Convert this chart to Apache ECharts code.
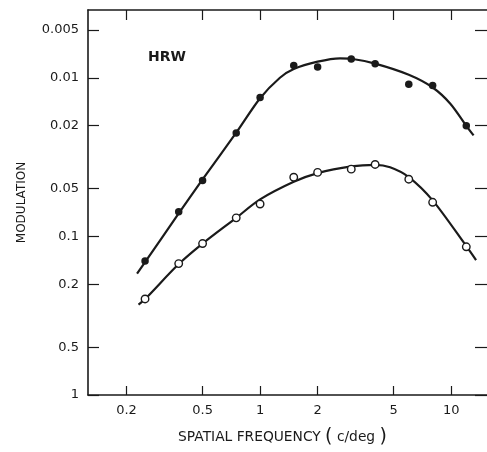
<!DOCTYPE html>
<html>
<head>
<meta charset="utf-8">
<script src="https://cdn.jsdelivr.net/npm/echarts@6/dist/echarts.min.js"></script>
<style>
html,body{margin:0;padding:0;background:#fff;}
#chart{width:487px;height:452px;}
</style>
</head>
<body>
<div id="chart"></div>
<script>
// Measured points (spatial frequency, c/deg)
const freqs = [0.25, 0.375, 0.5, 0.75, 1, 1.5, 2, 3, 4, 6, 8, 12];
// Filled dots (upper curve)
const filledMod = [0.143, 0.070, 0.0445, 0.0223, 0.0133, 0.00836, 0.00856, 0.00761, 0.00817, 0.0110, 0.0112, 0.0201];
// Open circles (lower curve)
const openMod = [0.248, 0.1485, 0.111, 0.0764, 0.0625, 0.0424, 0.0395, 0.0377, 0.0352, 0.0436, 0.061, 0.1163];

// Fitted curves
const upperCurveFreq = [0.227, 0.25, 0.375, 0.5, 0.75, 1, 1.27, 1.5, 2, 2.62, 3, 4, 6, 8, 9.9, 12, 13.1];
const upperCurveMod  = [0.172, 0.1454, 0.0717, 0.0437, 0.0222, 0.01346, 0.0100, 0.00881, 0.00792, 0.00754, 0.00759, 0.00815, 0.00958, 0.01152, 0.01458, 0.0201, 0.0231];
const lowerCurveFreq = [0.231, 0.25, 0.375, 0.5, 0.75, 1, 1.5, 2, 3, 4, 4.79, 6, 8, 12, 13.5];
const lowerCurveMod  = [0.269, 0.2487, 0.1495, 0.111, 0.0764, 0.0585, 0.0453, 0.0399, 0.0362, 0.0354, 0.0367, 0.0423, 0.0593, 0.1152, 0.141];

// Tick labels
const xTicks = [0.2, 0.5, 1, 2, 5, 10];
const xTickLabels = ['0.2', '0.5', '1', '2', '5', '10'];
const yTicks = [0.005, 0.01, 0.02, 0.05, 0.1, 0.2, 0.5, 1];
const yTickLabels = ['0.005', '0.01', '0.02', '0.05', '0.1', '0.2', '0.5', '1'];

function nearestLabel(v, ticks, labels) {
  let best = 0, bd = Infinity;
  for (let i = 0; i < ticks.length; i++) {
    const d = Math.abs(Math.log10(v) - Math.log10(ticks[i]));
    if (d < bd) { bd = d; best = i; }
  }
  return labels[best];
}
function zip(a, b) { return a.map((v, i) => [v, b[i]]); }

const FONT = 'DejaVu Sans';
const INK = '#1a1a1a';
const xMin = 0.1257, xMax = 15.4, yMin = 0.00374, yMax = 1;

const chart = echarts.init(document.getElementById('chart'));
chart.setOption({
  animation: false,
  backgroundColor: '#fff',
  grid: { left: 88, top: 10, right: 0, bottom: 45, containLabel: false },
  xAxis: [{
    type: 'log', logBase: 10, min: xMin, max: xMax, position: 'bottom',
    axisLine: { show: true, lineStyle: { color: INK, width: 1.6 } },
    axisTick: { show: true, inside: true, length: 9, customValues: xTicks, lineStyle: { color: INK, width: 1.2 } },
    axisLabel: { show: true, customValues: xTicks, margin: 9, fontFamily: FONT, fontSize: 13, color: INK,
      formatter: v => nearestLabel(v, xTicks, xTickLabels) },
    splitLine: { show: false }, minorTick: { show: false },
    name: '{a|SPATIAL FREQUENCY }{p|(}{a| c/deg }{p|)}',
    nameLocation: 'middle', nameGap: 33,
    nameTextStyle: {
      padding: [0, 10, 0, 0],
      rich: {
        a: { fontFamily: FONT, fontSize: 13.8, color: INK },
        p: { fontFamily: FONT, fontSize: 19, color: INK }
      }
    }
  }, {
    type: 'log', logBase: 10, min: xMin, max: xMax, position: 'top',
    axisLine: { show: true, lineStyle: { color: INK, width: 1.6 } },
    axisTick: { show: true, inside: true, length: 10, customValues: xTicks, lineStyle: { color: INK, width: 1.2 } },
    axisLabel: { show: false }, splitLine: { show: false }
  }],
  yAxis: [{
    type: 'log', logBase: 10, min: yMin, max: yMax, inverse: true, position: 'left',
    axisLine: { show: true, lineStyle: { color: INK, width: 1.6 } },
    axisTick: { show: true, inside: true, length: 11, customValues: yTicks, lineStyle: { color: INK, width: 1.2 } },
    axisLabel: { show: true, customValues: yTicks, margin: 9, fontFamily: FONT, fontSize: 13, color: INK,
      formatter: v => nearestLabel(v, yTicks, yTickLabels) },
    splitLine: { show: false }, minorTick: { show: false },
    name: 'MODULATION', nameLocation: 'middle', nameGap: 60, nameRotate: 90,
    nameTextStyle: { fontFamily: FONT, fontSize: 12, color: INK }
  }, {
    type: 'log', logBase: 10, min: yMin, max: yMax, inverse: true, position: 'right',
    axisLine: { show: false },
    axisTick: { show: true, inside: true, length: 12, customValues: yTicks, lineStyle: { color: INK, width: 1.2 } },
    axisLabel: { show: false }, splitLine: { show: false }
  }],
  graphic: [{
    type: 'text', left: 148, top: 50,
    style: { text: 'HRW', fontFamily: FONT, fontWeight: 'bold', fontSize: 14, fill: INK }
  }],
  series: [
    { type: 'line', data: zip(upperCurveFreq, upperCurveMod), smooth: 0.3, showSymbol: false,
      lineStyle: { color: INK, width: 2.2 }, z: 2, silent: true },
    { type: 'line', data: zip(lowerCurveFreq, lowerCurveMod), smooth: 0.3, showSymbol: false,
      lineStyle: { color: INK, width: 2.2 }, z: 2, silent: true },
    { type: 'scatter', data: zip(freqs, filledMod), symbol: 'circle', symbolSize: 7.5,
      itemStyle: { color: INK, opacity: 1 }, z: 3 },
    { type: 'scatter', data: zip(freqs, openMod), symbol: 'circle', symbolSize: 7.5,
      itemStyle: { color: '#fff', borderColor: INK, borderWidth: 1.4, opacity: 1 }, z: 3 }
  ]
});
</script>
</body>
</html>
